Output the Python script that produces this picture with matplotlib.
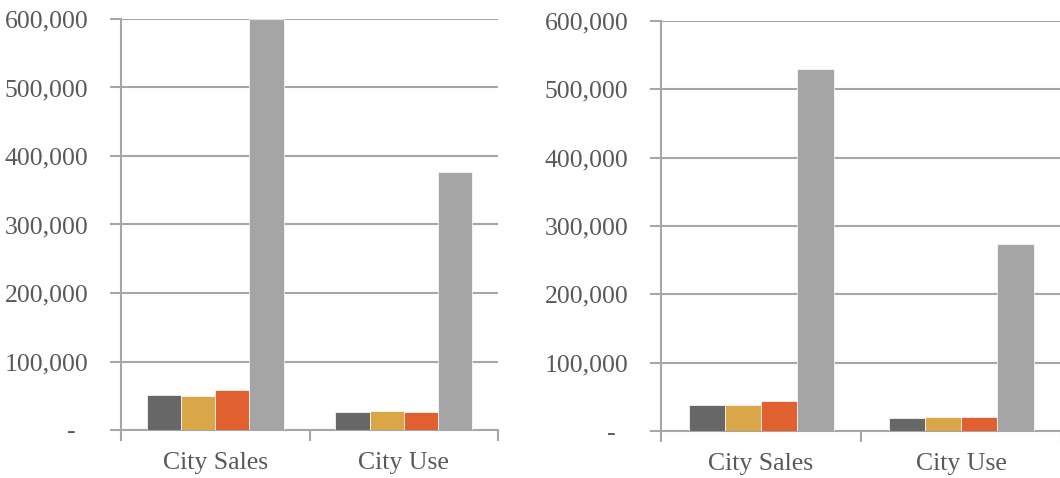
import matplotlib
matplotlib.use("Agg")
import matplotlib.pyplot as plt
from matplotlib.ticker import FuncFormatter
import numpy as np

# Data
categories = ["City Sales", "City Use"]
series_colors = ["#676767", "#D9A747", "#E0612F", "#A5A5A5"]

left_values = [
    [51000, 25800],    # series 1
    [49600, 27700],    # series 2
    [58400, 26300],    # series 3
    [600000, 376000],  # series 4
]
right_values = [
    [38100, 19500],
    [37600, 21000],
    [44400, 20000],
    [529500, 273500],
]

y_ticks = [0, 100000, 200000, 300000, 400000, 500000, 600000]

TEXT = "#595959"
GRID = "#A6A6A6"
FONT = "Liberation Serif"

plt.rcParams["font.family"] = FONT

fig = plt.figure(figsize=(10.6, 4.78), dpi=100)
ax_left = fig.add_axes([121 / 1060, 48 / 478, 377 / 1060, 411 / 478])
ax_right = fig.add_axes([661 / 1060, 47 / 478, 400 / 1060, 410 / 478])


def fmt(v, _pos):
    if v == 0:
        return "-  "
    return f"{int(v):,}"


def draw(ax, values):
    x = np.arange(len(categories))
    n = len(values)
    w = 0.725 / n
    for i, (vals, col) in enumerate(zip(values, series_colors)):
        ax.bar(x + (i - (n - 1) / 2) * w, vals, width=w, color=col,
               edgecolor="white", linewidth=0.5, zorder=3)
    ax.set_xlim(-0.5, len(categories) - 0.5)
    ax.set_ylim(0, 600000)
    ax.set_yticks(y_ticks)
    ax.yaxis.set_major_formatter(FuncFormatter(fmt))
    ax.grid(axis="y", color=GRID, linewidth=1.5, zorder=0)
    ax.set_axisbelow(True)
    # category boundaries as major ticks, labels at centres as minor ticks
    ax.set_xticks(np.arange(-0.5, len(categories), 1.0))
    ax.set_xticklabels([])
    ax.set_xticks(x, minor=True)
    ax.set_xticklabels(categories, minor=True)
    ax.tick_params(axis="x", which="major", length=8, width=1.5,
                   color=GRID, direction="out")
    ax.tick_params(axis="x", which="minor", length=0, pad=16,
                   labelsize=18.5, labelcolor=TEXT)
    ax.tick_params(axis="y", length=8, width=1.5, color=GRID,
                   direction="out", pad=15.5, labelsize=18.5,
                   labelcolor=TEXT)
    for side in ("top", "right"):
        ax.spines[side].set_visible(False)
    for side in ("left", "bottom"):
        ax.spines[side].set_color(GRID)
        ax.spines[side].set_linewidth(1.5)


draw(ax_left, left_values)
draw(ax_right, right_values)

fig.savefig("out.png", dpi=100, facecolor="white")
